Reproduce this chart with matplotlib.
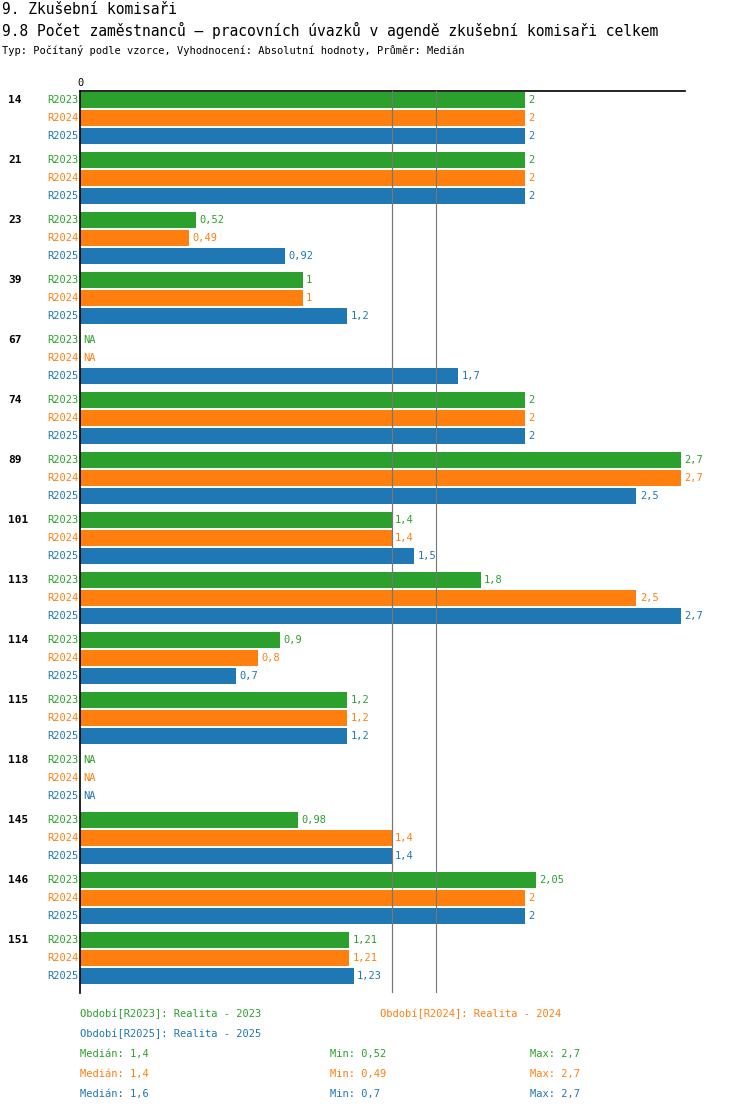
import matplotlib.pyplot as plt

plt.rcParams['font.family'] = ['DejaVu Sans Mono']

groups = ['14', '21', '23', '39', '67', '74', '89', '101', '113', '114', '115', '118', '145', '146', '151']
periods = ['R2023', 'R2024', 'R2025']
r2023 = [2, 2, 0.52, 1, None, 2, 2.7, 1.4, 1.8, 0.9, 1.2, None, 0.98, 2.05, 1.21]
r2024 = [2, 2, 0.49, 1, None, 2, 2.7, 1.4, 2.5, 0.8, 1.2, None, 1.4, 2, 1.21]
r2025 = [2, 2, 0.92, 1.2, 1.7, 2, 2.5, 1.5, 2.7, 0.7, 1.2, None, 1.4, 2, 1.23]
medians = [1.4, 1.4, 1.6]
mins = [0.52, 0.49, 0.7]
maxs = [2.7, 2.7, 2.7]
colors = ['#2ca02c', '#ff7f0e', '#1f77b4']

W, H = 750, 1112
fig = plt.figure(figsize=(W / 100, H / 100), dpi=100)
ax = fig.add_axes([80 / W, 1 - 993 / H, 605 / W, 902 / H])
scale = 601 / 2.7
ax.set_xlim(0, 605 / scale)
ax.set_ylim(993, 91)


def fmt(v):
    return ('%g' % v).replace('.', ',')


for j, series in enumerate([r2023, r2024, r2025]):
    for i, v in enumerate(series):
        y = 100 + 60 * i + 18 * j
        fig.text(78 / W, 1 - y / H, periods[j], color=colors[j], fontsize=7.5,
                 ha='right', va='center')
        if v is None:
            ax.text(0.015, y, 'NA', color=colors[j], fontsize=7.5, va='center')
            continue
        ax.barh(y, v, height=16, color=colors[j], zorder=2)
        ax.text(v + 0.015, y, fmt(v), color=colors[j], fontsize=7.5, va='center')

for i, g in enumerate(groups):
    fig.text(8 / W, 1 - (100 + 60 * i) / H, g, fontsize=8, fontweight='bold', va='center')

for j, m in enumerate(medians):
    ax.axvline(m, color='#777777', lw=0.8, zorder=3)

for s in ['right', 'bottom']:
    ax.spines[s].set_visible(False)
ax.spines['left'].set_linewidth(1.2)
ax.spines['top'].set_linewidth(1.2)
ax.set_yticks([])
ax.xaxis.tick_top()
ax.set_xticks([0])
ax.tick_params(axis='x', length=0, labelsize=7.5, pad=2)

fig.text(2 / W, 1 - 10 / H, '9. Zkušební komisaři', fontsize=10.5, va='center')
fig.text(2 / W, 1 - 30 / H, '9.8 Počet zaměstnanců – pracovních úvazků v agendě zkušební komisaři celkem',
         fontsize=10.5, va='center')
fig.text(2 / W, 1 - 50 / H, 'Typ: Počítaný podle vzorce, Vyhodnocení: Absolutní hodnoty, Průměr: Medián',
         fontsize=7.5, va='center')

fs = 7.5
fig.text(80 / W, 1 - 1014 / H, 'Období[R2023]: Realita - 2023', color=colors[0], fontsize=fs, va='center')
fig.text(380 / W, 1 - 1014 / H, 'Období[R2024]: Realita - 2024', color=colors[1], fontsize=fs, va='center')
fig.text(80 / W, 1 - 1034 / H, 'Období[R2025]: Realita - 2025', color=colors[2], fontsize=fs, va='center')
for j in range(3):
    y = 1 - (1054 + 20 * j) / H
    fig.text(80 / W, y, 'Medián: ' + fmt(medians[j]), color=colors[j], fontsize=fs, va='center')
    fig.text(330 / W, y, 'Min: ' + fmt(mins[j]), color=colors[j], fontsize=fs, va='center')
    fig.text(530 / W, y, 'Max: ' + fmt(maxs[j]), color=colors[j], fontsize=fs, va='center')

fig.savefig('out.png', dpi=100)
